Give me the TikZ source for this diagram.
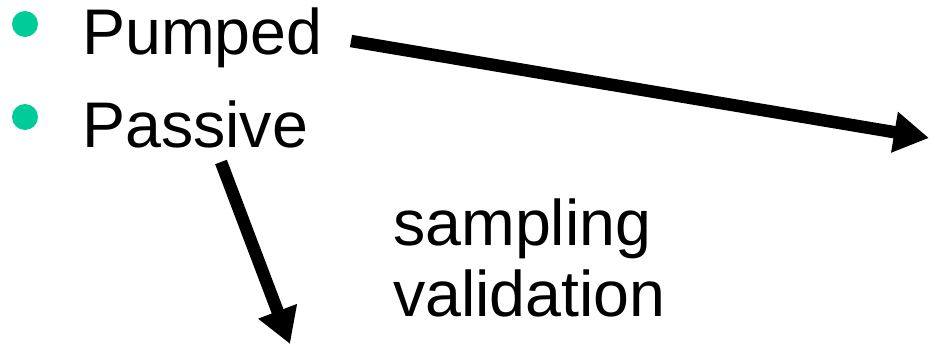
\documentclass[tikz,border=0pt]{standalone}
\usepackage{fontspec}
\setmainfont{Liberation Sans}
\usetikzlibrary{arrows.meta}
\definecolor{bulletgreen}{RGB}{0,204,153}
\tikzset{
  item/.style={anchor=base west, inner sep=0pt, font=\fontsize{64.5}{72}\selectfont},
  dot/.style={circle, fill=bulletgreen, minimum size=26pt, inner sep=0pt},
  bigarrow/.style={line width=12.5pt, -{Triangle[length=35pt, width=39pt]}},
}
\begin{document}
\begin{tikzpicture}[x=1pt, y=-1pt]
  \useasboundingbox (0,0) rectangle (930,346);
  % bulleted list
  \node[dot] (b1) at (25,24) {};
  \node[dot] (b2) at (25,117) {};
  \node[item] (pumped) at (82,54) {Pumped};
  \node[item] (passive) at (82,147) {Passive};
  % label
  \node[item] (sampling) at (393,245) {sampling};
  \node[item] (validation) at (393,316) {validation};
  % arrows
  \coordinate (p1) at (351,41);
  \coordinate (p2) at (929,138);
  \coordinate (q1) at (221,162);
  \coordinate (q2) at (290,344);
  \draw[bigarrow] (p1) -- (p2);
  \draw[bigarrow] (q1) -- (q2);
\end{tikzpicture}
\end{document}
